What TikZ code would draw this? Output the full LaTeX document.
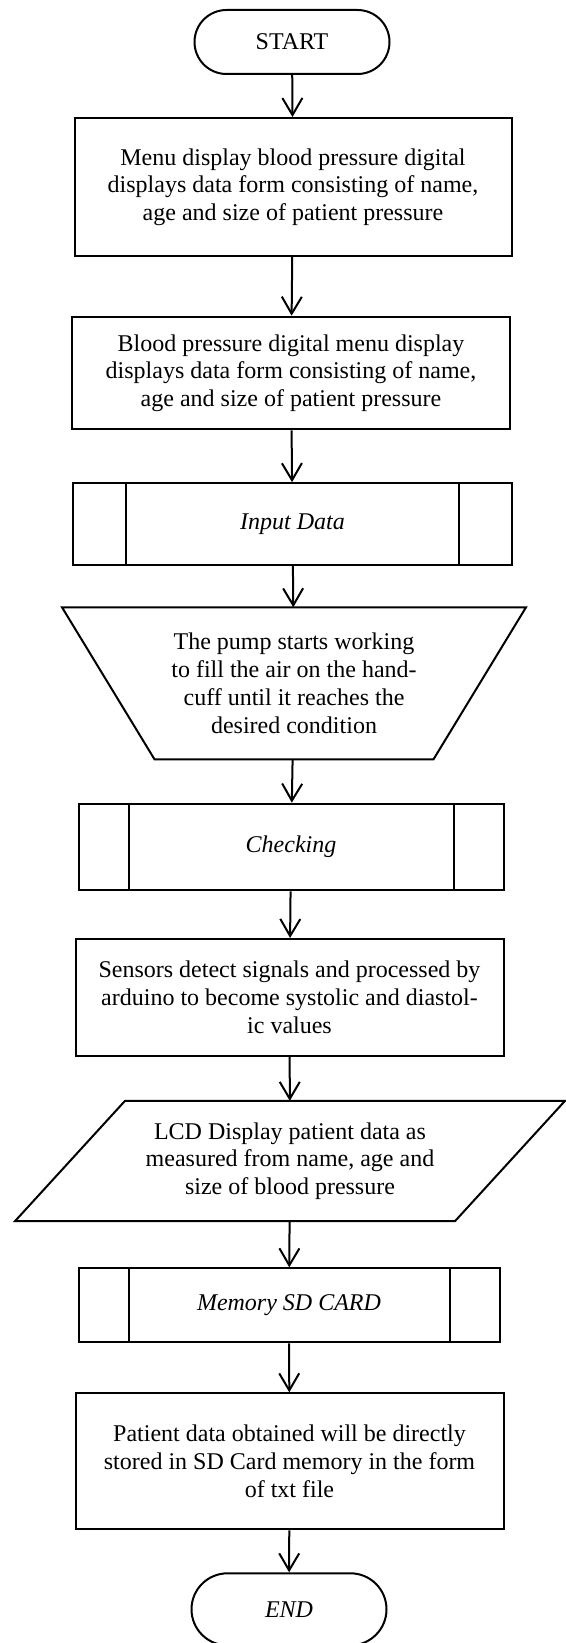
\documentclass[tikz,border=0pt]{standalone}
\usepackage{fontspec}
\setmainfont{Liberation Serif}
\usetikzlibrary{arrows.meta}

\begin{document}
\begin{tikzpicture}[x=1pt, y=-1pt, line width=2pt, font=\fontsize{24}{27.7}\selectfont,
    >={Straight Barb[length=17pt,width=20pt]},
    tnode/.style={draw, rounded corners=32pt, minimum width=195pt, minimum height=64pt, inner sep=0pt},
    pnode/.style={draw, align=center, inner sep=0pt},
    snode/.style={draw, inner sep=0pt},
    fnode/.style={align=center, inner sep=0pt}]
    \useasboundingbox (0,0) rectangle (565,1643);

    \node[tnode] (start) at (292,42) {START};
    \node[pnode, minimum width=437pt, minimum height=138pt] (menu) at (293,187) {Menu display blood pressure digital\\displays data form consisting of name,\\age and size of patient pressure};
    \node[pnode, minimum width=438pt, minimum height=112.6pt] (form) at (291,373) {Blood pressure digital menu display\\displays data form consisting of name,\\age and size of patient pressure};
    \node[snode, minimum width=439pt, minimum height=81.7pt] (input) at (292.5,524) {\itshape Input Data};
    \node[fnode, minimum width=462pt, minimum height=150pt] (pump) at (294,683.3) {The pump starts working\\to fill the air on the hand-\\cuff until it reaches the\\desired condition};
    \node[snode, minimum width=425pt, minimum height=86.7pt] (check) at (291,847) {\itshape Checking};
    \node[pnode, minimum width=428pt, minimum height=116.7pt] (sensor) at (289.5,997.3) {Sensors detect signals and processed by\\arduino to become systolic and diastol-\\ic values};
    \node[fnode, minimum width=548pt, minimum height=118.3pt] (lcd) at (290,1161) {LCD Display patient data as\\measured from name, age and\\size of blood pressure};
    \node[snode, minimum width=421pt, minimum height=74pt] (memory) at (289,1305.3) {\itshape Memory SD CARD};
    \node[pnode, minimum width=428pt, minimum height=136pt] (store) at (289.5,1461.3) {Patient data obtained will be directly\\stored in SD Card memory in the form\\of txt file};
    \node[tnode, minimum height=72pt, rounded corners=36pt] (end) at (289,1609.3) {\itshape END};

    % manual input and data shapes
    \draw (pump.north west) -- (pump.north east) -- ([xshift=-92.5pt]pump.south east) -- ([xshift=92.5pt]pump.south west) -- cycle;
    \draw ([xshift=110pt]lcd.north west) -- (lcd.north east) -- ([xshift=-110pt]lcd.south east) -- (lcd.south west) -- cycle;

    % side bars of the sub-process boxes
    \foreach \n/\d in {input/54, check/51, memory/51} {
        \draw ([xshift=\d pt]\n.north west) -- ([xshift=\d pt]\n.south west);
        \draw ([xshift=-\d pt]\n.north east) -- ([xshift=-\d pt]\n.south east);
    }

    \draw[->] (start) edge (menu);
    \draw[->] (menu) edge (form);
    \draw[->] (form) edge (input);
    \draw[->] (input) edge (pump);
    \draw[->] (pump) edge (check);
    \draw[->] (check) edge (sensor);
    \draw[->] (sensor) edge (lcd);
    \draw[->] (lcd) edge (memory);
    \draw[->] (memory) edge (store);
    \draw[->] (store) edge (end);
\end{tikzpicture}
\end{document}
